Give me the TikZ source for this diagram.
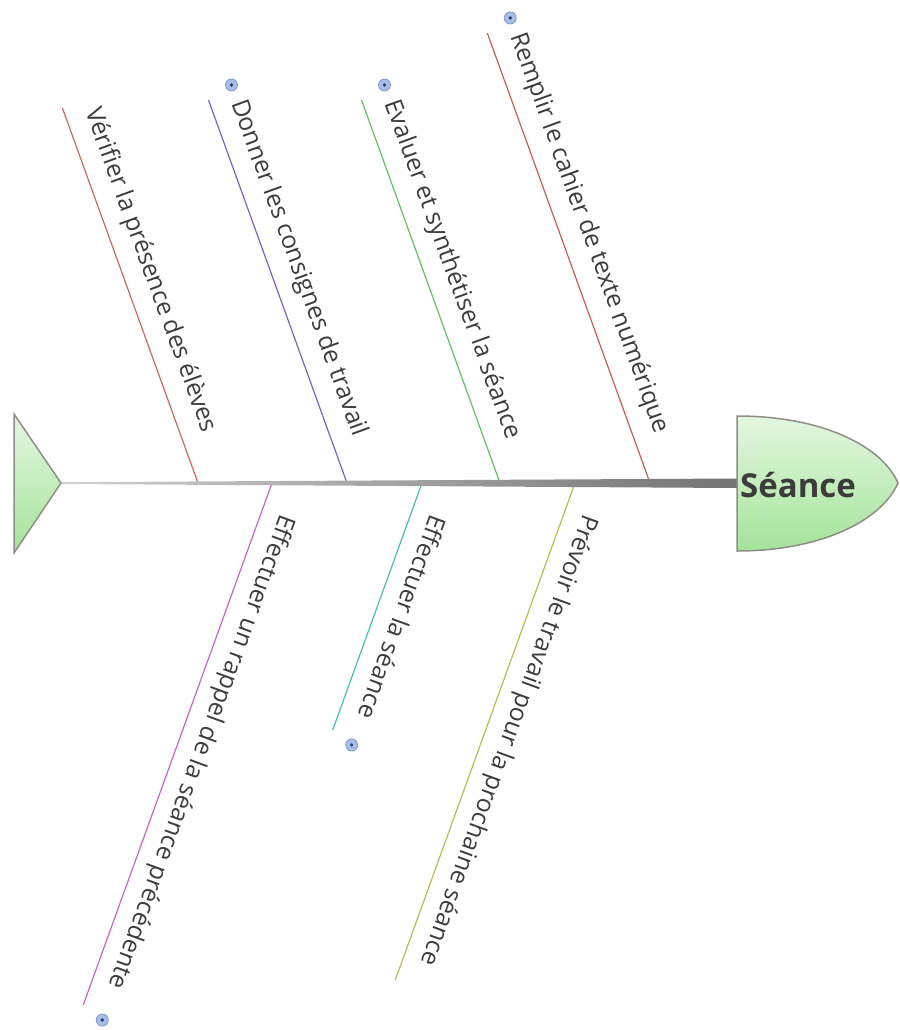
\documentclass[tikz,border=0pt]{standalone}
\usepackage{xcolor}
\usepackage{fontspec}
\setmainfont{Open Sans}
\usepackage{tikz}
\tikzset{>=latex}
\usetikzlibrary{backgrounds}

\definecolor{boneRed}{HTML}{C86868}
\definecolor{boneBlue}{HTML}{6A6AC8}
\definecolor{boneGreen}{HTML}{62C062}
\definecolor{boneBrick}{HTML}{C25E5E}
\definecolor{boneMagenta}{HTML}{C466CC}
\definecolor{boneTeal}{HTML}{52B8B4}
\definecolor{boneOlive}{HTML}{BABA58}
\definecolor{labelGray}{HTML}{3C3C3C}
\definecolor{shapeGray}{HTML}{8E8E86}
\definecolor{fishTop}{HTML}{E4F6E0}
\definecolor{fishBot}{HTML}{A4E49A}
\definecolor{iconBlue}{HTML}{A6BEE8}
\definecolor{iconRing}{HTML}{7C98CE}
\definecolor{iconDark}{HTML}{2E3C6A}

\begin{document}
\begin{tikzpicture}[x=1pt, y=-1pt,
    bone/.style={line width=1.2pt},
    lbl/.style={inner sep=0pt, text=labelGray, font=\fontsize{24.5}{28}\selectfont},
    dot/.style={circle, inner sep=0pt, minimum size=12pt, fill=iconBlue, draw=iconRing, line width=0.8pt}]
   \useasboundingbox (0,0) rectangle (899,1030);

   % Upper bones
   \foreach \n/\sx/\ty/\col/\txt/\mark in {
       1/198/108/boneRed/{Vérifier la présence des élèves}/0,
       2/347/100/boneBlue/{Donner les consignes de travail}/1,
       3/500/100/boneGreen/{Evaluer et synthétiser la séance}/1,
       4/650/33/boneBrick/{Remplir le cahier de texte numérique}/1}{
       \coordinate (s\n) at (\sx,483);
       \coordinate (t\n) at ({\sx-0.3616*(483-\ty)},\ty);
       \draw[bone, \col] (s\n) -- (t\n);
       \node[lbl, rotate=-70, anchor=base west] (l\n) at ({\sx-0.3616*(483-\ty)+23},{\ty+3}) {\txt};
       \ifnum\mark=1
           \node[dot] (i\n) at ({\sx-0.3616*(483-\ty)+23},{\ty-15}) {};
           \fill[iconDark] (i\n.center) circle[radius=1.8pt];
       \fi
   }

   % Lower bones
   \foreach \n/\sx/\by/\col/\txt/\mark in {
       5/272/1005/boneMagenta/{Effectuer un rappel de la séance précédente}/1,
       6/422/730/boneTeal/{Effectuer la séance}/1,
       7/575/980/boneOlive/{Prévoir le travail pour la prochaine séance}/0}{
       \coordinate (s\n) at (\sx,483);
       \coordinate (b\n) at ({\sx-0.3616*(\by-483)},\by);
       \draw[bone, \col] (s\n) -- (b\n);
       \node[lbl, rotate=-110, anchor=base west] (l\n) at ({\sx+9},513) {\txt};
       \ifnum\mark=1
           \node[dot] (i\n) at ({\sx-0.3616*(\by-483)+19},{\by+15}) {};
           \fill[iconDark] (i\n.center) circle[radius=1.8pt];
       \fi
   }

   % Spine
   \coordinate (tail) at (61,483);
   \coordinate (neck) at (737,483);
   \shade[left color=black!18, right color=black!55]
       (tail) ++(0,-0.8) -- (737,478.5) -- (737,488) -- (61,484) -- cycle;

   % Tail
   \shade[top color=fishTop, bottom color=fishBot, draw=shapeGray, line width=1.5pt]
       (14,414) -- (14,553) -- (tail) -- cycle;

   % Head
   \shade[top color=fishTop, bottom color=fishBot, draw=shapeGray, line width=1.5pt]
       (737,416) .. controls (822,416) and (882,446) .. (898,483)
       .. controls (882,520) and (822,551) .. (737,551) -- cycle;
   \node[anchor=base, inner sep=0pt, text=labelGray, font=\fontsize{33}{36}\selectfont\bfseries] (head) at (798,497) {Séance};
\end{tikzpicture}
\end{document}
